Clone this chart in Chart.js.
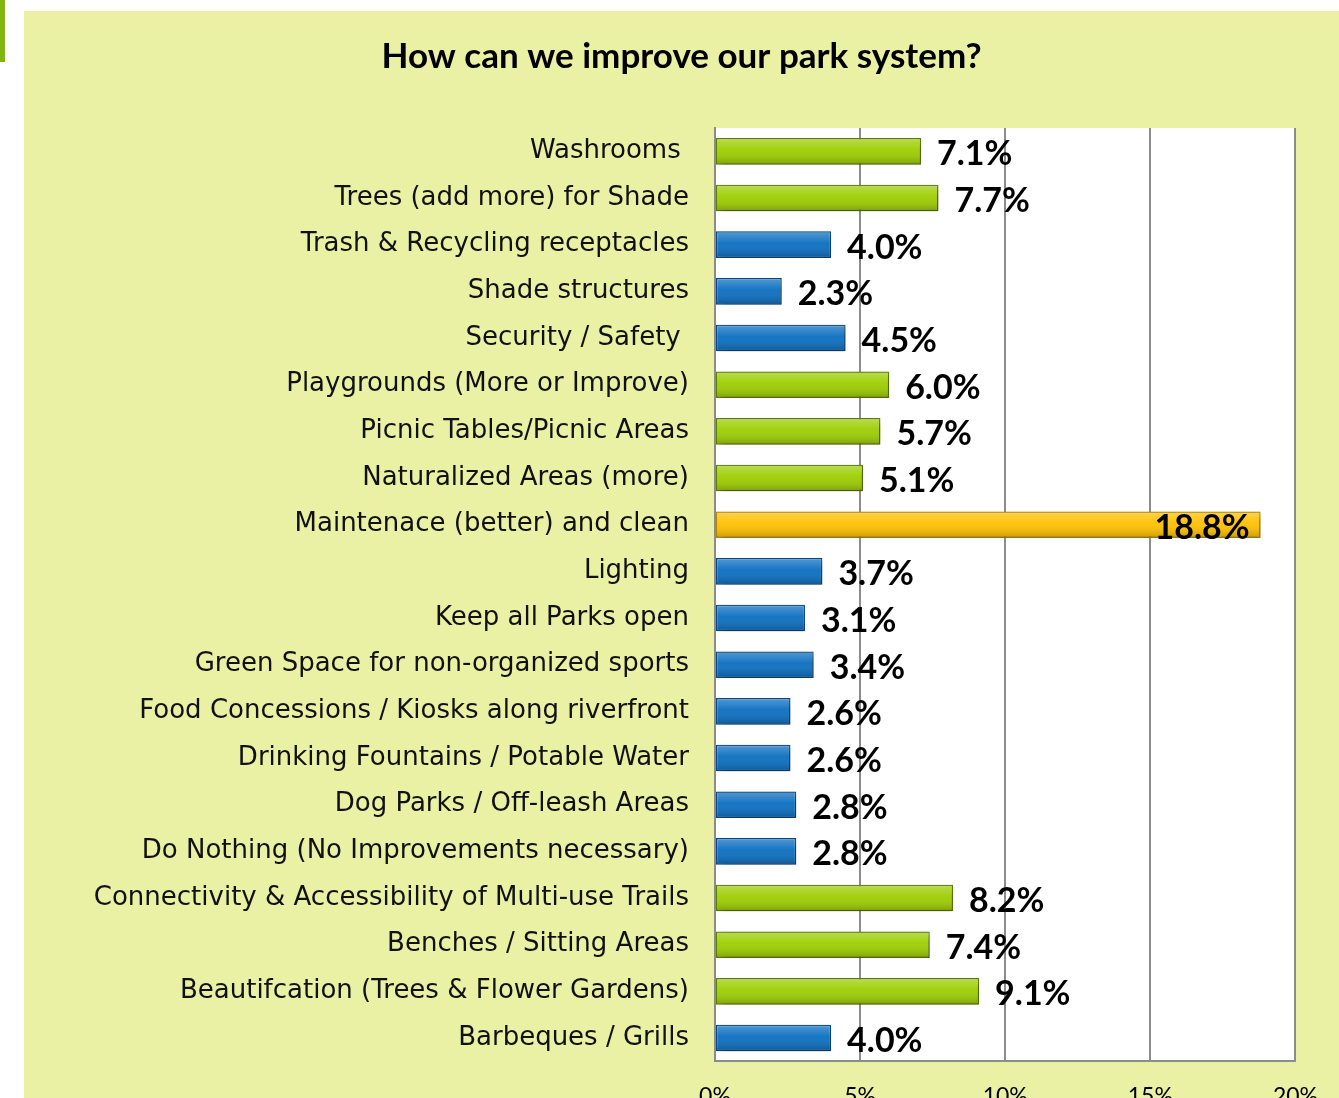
<!DOCTYPE html>
<html lang="en">
<head>
    <meta charset="UTF-8">
    <script src="https://cdn.jsdelivr.net/npm/chart.js@4.4.1/dist/chart.umd.min.js"></script>
    <title>How can we improve our park system?</title>
    <style>
        * { margin: 0; padding: 0; box-sizing: border-box; }
        html, body { width: 1339px; height: 1098px; overflow: hidden; background: #ffffff; }
        .strip { position: absolute; left: 0; top: 0; width: 5px; height: 62px; background: #84b414; }
        .panel {
            position: absolute; left: 24px; top: 11px;
            width: 1315px; height: 1134px;
            background: #eaf0a4;
        }
        canvas { display: block; }
    </style>
</head>
<body>
    <div class="strip"></div>
    <div class="panel">
        <canvas id="parkChart" width="1315" height="1134"></canvas>
    </div>

    <script>
        // survey answers, top to bottom
        const categories = [
            'Washrooms ',
            'Trees (add more) for Shade',
            'Trash & Recycling receptacles',
            'Shade structures',
            'Security / Safety ',
            'Playgrounds (More or Improve)',
            'Picnic Tables/Picnic Areas',
            'Naturalized Areas (more)',
            'Maintenace (better) and clean',
            'Lighting',
            'Keep all Parks open',
            'Green Space for non-organized sports',
            'Food Concessions / Kiosks along riverfront',
            'Drinking Fountains / Potable Water',
            'Dog Parks / Off-leash Areas',
            'Do Nothing (No Improvements necessary)',
            'Connectivity & Accessibility of Multi-use Trails',
            'Benches / Sitting Areas',
            'Beautifcation (Trees & Flower Gardens)',
            'Barbeques / Grills'
        ];
        const percents = [7.1, 7.7, 4.0, 2.3, 4.5, 6.0, 5.7, 5.1, 18.8, 3.7, 3.1, 3.4, 2.6, 2.6, 2.8, 2.8, 8.2, 7.4, 9.1, 4.0];
        // g = green, b = blue, o = orange (top answer)
        const colorKeys = ['g','g','b','b','b','g','g','g','o','b','b','b','b','b','b','b','g','g','g','b'];
        const xTicks = [0, 5, 10, 15, 20];

        const fills = { g: '#9dcd00', b: '#0a6ec0', o: '#ffc000' };
        const edges = { g: '#5d8100', b: '#064a86', o: '#b58a00' };

        const labelFont = "'DejaVu Sans', sans-serif";
        const numFont = "Lato, 'Open Sans', sans-serif";

        // white plot area + shadow under bars + value labels
        const plotBackground = {
            id: 'plotBackground',
            beforeDraw(chart) {
                const { ctx, chartArea: a } = chart;
                ctx.save();
                ctx.fillStyle = '#ffffff';
                ctx.fillRect(a.left, a.top, a.right - a.left, a.bottom - a.top);
                ctx.restore();
            },
            beforeDatasetsDraw(chart) {
                const ctx = chart.ctx;
                ctx.save();
                ctx.shadowColor = 'rgba(0,0,0,0.28)';
                ctx.shadowBlur = 7;
                ctx.shadowOffsetX = 3;
                ctx.shadowOffsetY = 3;
            },
            afterDatasetsDraw(chart) {
                const ctx = chart.ctx;
                ctx.restore();
                const meta = chart.getDatasetMeta(0);
                meta.data.forEach((bar, i) => {
                    const top = bar.y - bar.height / 2;
                    const left = bar.base;
                    const w = bar.x - bar.base;
                    // glossy shading
                    const g = ctx.createLinearGradient(0, top, 0, top + bar.height);
                    g.addColorStop(0, 'rgba(255,255,255,0.30)');
                    g.addColorStop(0.45, 'rgba(255,255,255,0.05)');
                    g.addColorStop(1, 'rgba(0,0,0,0.22)');
                    ctx.save();
                    ctx.fillStyle = g;
                    ctx.fillRect(left + 1, top + 1, w - 2, bar.height - 2);
                    ctx.restore();

                    const v = percents[i];
                    ctx.save();
                    ctx.font = "bold 34px " + numFont;
                    ctx.fillStyle = '#000000';
                    ctx.textBaseline = 'middle';
                    if (v > 15) {
                        ctx.textAlign = 'right';
                        ctx.fillText(v.toFixed(1) + '%', bar.x - 11, bar.y + 3);
                    } else {
                        ctx.textAlign = 'left';
                        ctx.fillText(v.toFixed(1) + '%', bar.x + 16, bar.y + 3);
                    }
                    ctx.restore();
                });
            }
        };

        new Chart(document.getElementById('parkChart'), {
            type: 'bar',
            data: {
                labels: categories,
                datasets: [{
                    data: percents,
                    backgroundColor: colorKeys.map(k => fills[k]),
                    borderColor: colorKeys.map(k => edges[k]),
                    borderWidth: 1.5,
                    borderSkipped: false,
                    categoryPercentage: 1,
                    barPercentage: 0.57
                }]
            },
            options: {
                indexAxis: 'y',
                responsive: false,
                animation: false,
                layout: { padding: { top: 0, right: 41, bottom: 14, left: 41 } },
                plugins: {
                    legend: { display: false },
                    tooltip: { enabled: false },
                    title: {
                        display: true,
                        text: 'How can we improve our park system?',
                        color: '#000000',
                        font: { family: numFont, size: 35, weight: 'bold' },
                        padding: { top: 25, bottom: 50 }
                    }
                },
                scales: {
                    x: {
                        min: 0,
                        max: 20,
                        afterBuildTicks(scale) {
                            scale.ticks = xTicks.map(v => ({ value: v }));
                        },
                        ticks: {
                            callback: v => v + '%',
                            color: '#000000',
                            padding: 21,
                            font: { family: numFont, size: 23 }
                        },
                        grid: { color: '#8c8c8c', lineWidth: 2, drawTicks: false },
                        border: { display: true, color: '#8c8c8c', width: 2 }
                    },
                    y: {
                        afterFit(scale) { scale.width = 650; },
                        ticks: {
                            color: '#111111',
                            padding: 26,
                            autoSkip: false,
                            font: { family: labelFont, size: 26 }
                        },
                        grid: { display: false, drawTicks: false },
                        border: { display: true, color: '#8c8c8c', width: 2 }
                    }
                }
            },
            plugins: [plotBackground]
        });
    </script>
</body>
</html>
